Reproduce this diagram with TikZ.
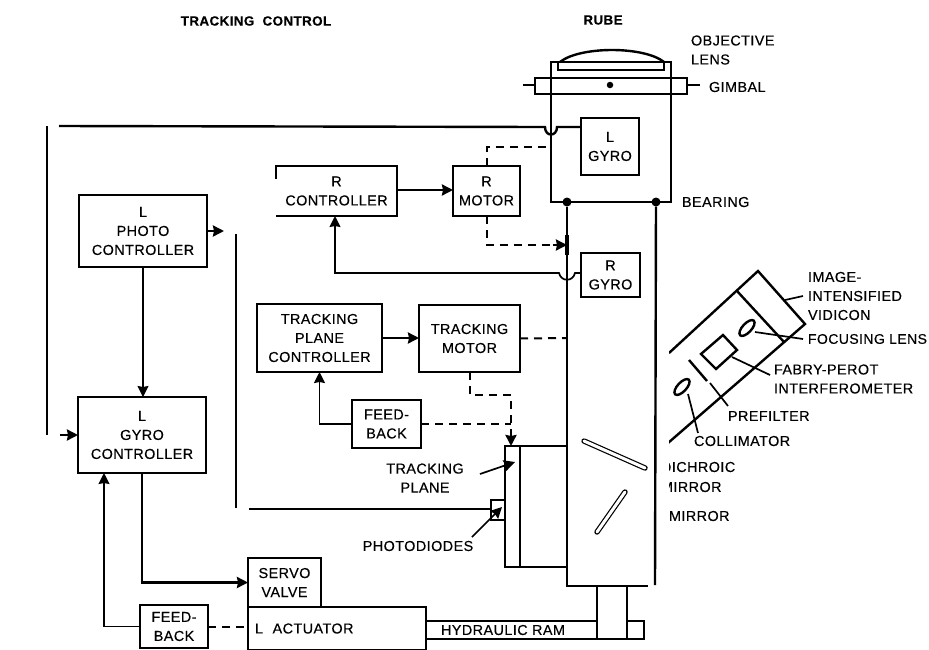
\documentclass[tikz,border=0pt]{standalone}
\usepackage{fontspec}
\setmainfont[LetterSpace=3,FakeBold=0.35]{Liberation Sans}
\usetikzlibrary{arrows.meta}
\begin{document}
\begin{tikzpicture}[x=1pt,y=-1pt,>={Stealth[length=11pt,width=11pt,inset=1pt]},
  font=\fontsize{14.4}{19}\selectfont,
  thin line/.style={line width=1.7pt},
  box line/.style={line width=2.4pt},
  dash line/.style={line width=2pt,dash pattern=on 8pt off 6pt},
  block/.style={draw,box line,align=center,inner sep=0,outer sep=0},
  lbl/.style={anchor=west,align=left,inner sep=0,outer sep=0},
  heading/.style={inner sep=0,font=\fontsize{13.4}{19}\selectfont\bfseries},
  dot/.style={circle,fill=black,inner sep=0,minimum size=9pt},
  mirror/.style={line width=5.4pt,line cap=round},
  mirror core/.style={white,line width=3pt,line cap=round}]
\useasboundingbox (0,0) rectangle (929,649);
% control side
\node[block,minimum width=128,minimum height=72] (lphoto) at (143,231) {L\\PHOTO\\CONTROLLER};
\node[block,minimum width=128,minimum height=76] (lgyroctl) at (142,435) {L\\GYRO\\CONTROLLER};
\node[block,minimum width=73,minimum height=49] (servo) at (284.5,582.5) {SERVO\\VALVE};
\node[block,minimum width=178,minimum height=43,text width=164,align=left] (lact) at (337,628.5) {L\ \ ACTUATOR};
\node[block,minimum width=68,minimum height=43] (fbl) at (174,626.5) {FEED-\\BACK};
\node[align=center,inner sep=0,outer sep=0,minimum width=121,minimum height=50] (rctl) at (336.5,191) {R\\CONTROLLER};
\node[block,minimum width=67,minimum height=50] (rmotor) at (486.5,191) {R\\MOTOR};
\node[block,minimum width=125,minimum height=68] (tpctl) at (319.5,338) {TRACKING\\PLANE\\CONTROLLER};
\node[block,minimum width=101,minimum height=67] (tmotor) at (469.5,338.5) {TRACKING\\MOTOR};
\node[block,minimum width=69,minimum height=48] (fbt) at (386.5,424) {FEED-\\BACK};
\node[block,minimum width=58,minimum height=57] (lgyro) at (610,146.5) {L\\GYRO};
\node[block,minimum width=59,minimum height=44] (rgyro) at (610.5,275) {R\\GYRO};
% r controller has an open left side
\draw[box line] (276,179) -- (276,166) -- (397,166) -- (397,216) -- (276,216);
% tube
\draw[box line] (551,62) -- (551,202) -- (671,202) -- (671,62) -- cycle;
\draw[box line] (558,62) rectangle (664,70);
\draw[box line] (560,62) .. controls (580,46) and (644,46) .. (664,62);
\draw[box line] (535,78) rectangle (687,94);
\draw[thin line] (523,85) -- (535,85) (687,85) -- (700,85);
\node[dot,minimum size=6.5pt] (pivot) at (610,85) {};
\node[dot] (bearl) at (567,202) {};
\node[dot] (bearr) at (656,202) {};
\draw[box line] (bearl) -- (567,586) -- (648,586);
\draw[box line] (bearr) -- (655,585);
\draw[line width=3.5pt] (567,235) -- (567,255);
\draw[mirror] (584,441) -- (645,468);
\draw[mirror core] (584,441) -- (645,468);
\draw[mirror] (625,492) -- (597,532);
\draw[mirror core] (625,492) -- (597,532);
% tracking plane
\draw[box line] (567,446) -- (505,446) -- (505,567) -- (567,567);
\draw[box line] (520,446) -- (520,567);
\node[block,minimum width=14,minimum height=20] (pdiode) at (498,510) {};
% ram
\draw[box line] (597,586) -- (597,640);
\draw[box line] (627,586) -- (627,640);
\draw[box line] (lact.east |- 0,621) -- (597,621) (627,621) -- (644,621) -- (644,639) -- (lact.east |- 0,639);
% loops
\draw[box line] (47,126) -- (47,435);
\draw[box line] (59,126) -- (545,127) .. controls (545,137) and (557,137) .. (557,127) -- (lgyro.west |- 0,127);
\coordinate (lin) at (60,435);
\draw[->,box line] (lin) -- (lgyroctl.west |- lin);
\coordinate (phin) at (224,231);
\draw[<-,box line] (phin) -- (lphoto.east |- phin);
\draw[thin line] (236,234) -- (236,508);
\draw[box line] (249,509) -- (pdiode.west |- 0,509);
\draw[->,thin line] (lphoto.south) -- (lphoto.south |- lgyroctl.north);
\draw[->,box line] (lgyroctl.south) |- (servo.west);
\draw[->,thin line] (fbl.west) -| ([xshift=-38]lgyroctl.south);
\draw[dash line] (fbl.east) -- (lact.west |- fbl.east);
\draw[->,box line] (rctl.east |- 0,190) -- (rmotor.west |- 0,190);
\draw[dash line] (rmotor.north) -- (486.5,147) -- (551,147);
\draw[dash line] (rmotor.south) -- (486.5,245) -- (553,245);
\draw[->,box line] (553,245) -- (567,245);
\draw[->,thin line] (581,273) -- (575,273) .. controls (573,282) and (561,282) .. (559,273) -- (335,273) -- (335,216);
\draw[->,box line] (tpctl.east) -- (tmotor.west |- tpctl.east);
\draw[dash line] (tmotor.east) -- (567,338);
\draw[->,thin line] (fbt.west) -| (tpctl.south);
\draw[dash line] (fbt.east) -- (511,424);
\draw[dash line] (470,372) -- (470,395) -- (511,395) -- (511,432);
\draw[->,box line] (511,432) -- (511,446);
% rotated instrument
\begin{scope}
\clip (669,0) rectangle (929,649);
\draw[box line] (669,353) -- (758,271) -- (805,324) -- (668,443);
\draw[box line] (737,291) -- (784,342);
\draw[box line] (701,354) -- (723,335) -- (737,350) -- (716,369) -- cycle;
\draw[box line] (689,360) -- (707,381);
\draw[box line,rotate around={47:(747,328)}] (747,328) ellipse (10 and 4.5);
\draw[box line,rotate around={47:(682,387)}] (682,387) ellipse (10 and 4.5);
\node[lbl] (dichroic) at (661,467) {DICHROIC};
\node[lbl] (dmirror) at (661,487) {MIRROR};
\end{scope}
\draw[thin line] (785,300) -- (803,296);
\draw[thin line] (755,332) -- (803,339);
\draw[thin line] (732,357) -- (770,375);
\draw[thin line] (710,383) -- (728,406);
\draw[thin line] (688,394) -- (698,433);
% arrows to labels
\draw[->,thin line] (480,474) -- (515,462);
\draw[->,thin line] (472,537) -- (502,507);
% labels
\node[heading] (title) at (256,21) {TRACKING\ \ CONTROL};
\node[heading] (rube) at (603,20) {RUBE};
\node[lbl] (objlens) at (691,50) {OBJECTIVE\\LENS};
\node[lbl] (gimbal) at (709,87) {GIMBAL};
\node[lbl] (bearing) at (682,202) {BEARING};
\node[lbl] (vidicon) at (808,296) {IMAGE-\\INTENSIFIED\\VIDICON};
\node[lbl,font=\fontsize{14}{19}\selectfont] (focus) at (808,339) {FOCUSING LENS};
\node[lbl] (fabry) at (774,379) {FABRY-PEROT\\INTERFEROMETER};
\node[lbl] (prefilter) at (728,416) {PREFILTER};
\node[lbl] (collim) at (694,441) {COLLIMATOR};
\node[lbl] (mirrorl) at (669,516) {MIRROR};
\node[align=center,inner sep=0] (tplane) at (425,478) {TRACKING\\PLANE};
\node[inner sep=0] (photod) at (418,546) {PHOTODIODES};
\node[lbl] (ram) at (441,630) {HYDRAULIC RAM};
\end{tikzpicture}
\end{document}
